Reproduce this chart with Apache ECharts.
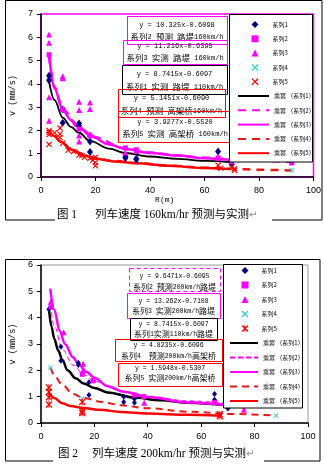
<!DOCTYPE html>
<html><head><meta charset="utf-8">
<script src="https://cdn.jsdelivr.net/npm/echarts@6/dist/echarts.min.js"></script>
<style>html,body{margin:0;padding:0;background:#fff}#c{width:324px;height:465px}</style>
</head><body><div id="c"></div>
<script>
// ---------- DATA: chart 1 (160 km/h) ----------
const c1S1x = [3, 3, 8, 8, 14, 14, 18, 18, 31, 31, 35, 35, 65, 70];
const c1S1y = [4.35, 4.15, 2.9, 2.33, 2.3, 2.2, 1.52, 1.07, 0.88, 0.82, 0.78, 0.75, 1.09, 0.55];
const c1S2x = [3, 8, 14, 18, 31, 35, 65, 70, 92];
const c1S2y = [5.25, 2.9, 2.06, 1.77, 1.25, 1.17, 0.82, 0.77, 0.6];
const c1S3x = [3, 3, 3, 3, 8, 8, 14, 14, 14, 14, 18, 18, 18, 31, 35, 65, 70, 70];
const c1S3y = [6.12, 5.76, 3.42, 2.42, 4.33, 4.24, 3.23, 2.88, 1.78, 1.52, 3.2, 2.92, 1.85, 1.05, 1.12, 0.82, 0.8, 0.68];
const c1S4x = [70, 92];
const c1S4y = [0.38, 0.3];
const c1S5x = [3, 3, 3, 3, 5, 7, 7, 7, 8, 10, 12, 14, 15, 16, 18, 19, 20, 20, 20, 65, 66, 70, 71, 71];
const c1S5y = [2.0, 1.92, 1.82, 1.4, 1.9, 2.1, 1.85, 1.7, 1.45, 1.15, 1.1, 0.95, 0.92, 0.85, 0.8, 0.72, 0.85, 0.62, 0.48, 0.5, 0.38, 0.42, 0.35, 0.28];
const c1T1x = [3, 5, 8, 11, 14, 18, 25, 31, 40, 50, 60, 70];
const c1T1y = [4.1, 3.3, 2.55, 2.15, 1.9, 1.55, 1.22, 1.03, 0.88, 0.78, 0.69, 0.63];
const c1T2x = [3, 5, 8, 14, 20, 30, 40, 50, 60, 70, 80, 92];
const c1T2y = [5.2, 3.85, 2.9, 2.1, 1.7, 1.25, 1.05, 0.92, 0.83, 0.76, 0.7, 0.64];
const c1T3x = [3, 5, 8, 11, 14, 18, 25, 31, 40, 50, 60, 70];
const c1T3y = [5.25, 3.8, 2.88, 2.45, 2.15, 1.78, 1.4, 1.2, 1.03, 0.92, 0.8, 0.73];
const c1T4x = [5, 8, 11, 16, 20, 27, 35, 47, 59, 70, 80, 92];
const c1T4y = [1.8, 1.45, 1.2, 0.95, 0.8, 0.69, 0.6, 0.49, 0.41, 0.35, 0.31, 0.28];
const c1T5x = [3, 5, 7.5, 11, 16, 20, 27, 35, 47, 59, 70];
const c1T5y = [2.0, 1.75, 1.5, 1.18, 0.92, 0.78, 0.67, 0.59, 0.48, 0.39, 0.34];

// ---------- DATA: chart 2 (200 km/h) ----------
const c2S1x = [3, 7.5, 7.5, 14, 14, 18, 18, 31, 31, 35, 35, 65, 65, 70];
const c2S1y = [4.32, 2.9, 2.36, 2.29, 2.2, 1.55, 1.06, 1.0, 0.8, 0.91, 0.77, 1.1, 0.88, 0.55];
const c2S2x = [3.8, 15.5, 19.5, 35, 38.5, 65, 76];
const c2S2y = [4.4, 1.85, 1.6, 1.06, 1.0, 0.78, 0.66];
const c2S3x = [3.7, 8.5, 15.8, 15.8, 19.7, 38.7, 76];
const c2S3y = [4.6, 3.45, 2.25, 2.0, 1.68, 0.77, 0.5];
const c2S4x = [3.5, 15.5, 67, 88];
const c2S4y = [2.1, 0.93, 0.37, 0.28];
const c2S5x = [3, 3, 3, 3, 15.5, 15.5, 15.5, 67, 67];
const c2S5y = [1.35, 1.18, 0.98, 0.7, 0.8, 0.45, 0.38, 0.33, 0.26];
const c2T1x = [3, 4, 5, 6.5, 8, 10, 13, 16, 20, 25, 35, 45, 55, 70];
const c2T1y = [4.33, 3.65, 3.2, 2.75, 2.4, 2.0, 1.7, 1.5, 1.33, 1.16, 0.97, 0.86, 0.77, 0.67];
const c2T2x = [3.5, 5, 8, 12, 16, 20, 30, 40, 55, 76];
const c2T2y = [4.5, 3.7, 2.8, 2.2, 1.85, 1.58, 1.22, 1.02, 0.84, 0.68];
const c2T3x = [3.5, 5, 7, 9, 12, 14, 17, 20, 25, 31, 40, 55, 76];
const c2T3y = [5.1, 4.3, 3.5, 3.0, 2.5, 2.25, 1.95, 1.72, 1.4, 1.19, 0.99, 0.78, 0.6];
const c2T4x = [3.7, 5, 8, 12, 16, 23, 30, 40, 55, 72, 88];
const c2T4y = [2.1, 1.8, 1.45, 1.1, 0.95, 0.8, 0.67, 0.56, 0.43, 0.34, 0.28];
const c2T5x = [3, 5, 8, 11, 16, 22, 30, 40, 55, 67];
const c2T5y = [1.15, 0.95, 0.75, 0.65, 0.57, 0.5, 0.42, 0.36, 0.31, 0.28];

// ---------- TEXT ----------
const legendNames = ['系列1', '系列2', '系列3', '系列4', '系列5',
  '乘幂 （系列1）', '乘幂 （系列2）', '乘幂 （系列3）', '乘幂 （系列4）', '乘幂 （系列5）'];
const c1Eq = ['y = 10.325x-0.6098', 'y = 11.216x-0.6395', 'y = 8.7415x-0.6097', 'y = 5.1451x-0.6090', 'y = 3.9277x-0.5520'];
const c1EqLbl = ['系列2 预测 路堤160km/h', '系列3 实测 路堤 160km/h', '系列1 实测 路堤 110km/h', '系列4 预测 高架桥160km/h', '系列5 实测 高架桥 160km/h'];
const c2Eq = ['y = 9.6471x-0.6095', 'y = 13.262x-0.7108', 'y = 8.7415x-0.6097', 'y = 4.8235x-0.6096', 'y = 1.5948x-0.5307'];
const c2EqLbl = ['系列2 预测200km/h路堤', '系列3 实测200km/h路堤', '系列1实测110km/h路堤', '系列4  预测200km/h高架桥', '系列5 实测200km/h高架桥'];
const caption1 = ['图 1', '列车速度 160km/hr 预测与实测'];
const caption2 = ['图 2', '列车速度 200km/hr 预测与实测'];
const xName = 'R(m)';
const yName = 'v (mm/s)';

// ---------- STYLE ----------
const NAVY = '#000080', MAG = '#ff00ff', CYAN = '#33cccc', RED = '#ff0000', DRED = '#e81818';
const X_SYM = 'path://M0,1.3L1.3,0L5,3.7L8.7,0L10,1.3L6.3,5L10,8.7L8.7,10L5,6.3L1.3,10L0,8.7L3.7,5Z';
const STAR_SYM = 'path://M0,1.3L1.3,0L5,3.7L8.7,0L10,1.3L6.3,5L10,8.7L8.7,10L5,6.3L1.3,10L0,8.7L3.7,5ZM4.4,0L5.6,0L5.6,10L4.4,10Z';
const pts = (xs, ys) => xs.map((x, i) => [x, ys[i]]);

function scat(name, xs, ys, gi, symbol, size, color) {
  return { type: 'scatter', name, xAxisIndex: gi, yAxisIndex: gi, data: pts(xs, ys),
    symbol, symbolSize: size, symbolKeepAspect: true, itemStyle: { color, opacity: 1, borderWidth: 0 }, z: 2, silent: true };
}
function fit(name, xs, ys, gi, color, width, type) {
  return { type: 'line', name, xAxisIndex: gi, yAxisIndex: gi, data: pts(xs, ys),
    symbol: 'none', showSymbol: false, smooth: 0.35, smoothMonotone: 'x',
    lineStyle: { color, width, type }, itemStyle: { color }, z: 2, silent: true };
}
const names = p => legendNames.map(n => p + '|' + n);
const n1 = names('a'), n2 = names('b');

const series = [
  scat(n1[0], c1S1x, c1S1y, 0, 'diamond', [6, 8], NAVY),
  scat(n1[1], c1S2x, c1S2y, 0, 'rect', 5, MAG),
  scat(n1[2], c1S3x, c1S3y, 0, 'triangle', 6, MAG),
  scat(n1[3], c1S4x, c1S4y, 0, X_SYM, 5, CYAN),
  scat(n1[4], c1S5x, c1S5y, 0, X_SYM, 6, RED),
  fit(n1[5], c1T1x, c1T1y, 0, '#000', 1.8, 'solid'),
  fit(n1[6], c1T2x, c1T2y, 0, MAG, 2.5, [8, 6]),
  fit(n1[7], c1T3x, c1T3y, 0, MAG, 2.5, 'solid'),
  fit(n1[8], c1T4x, c1T4y, 0, DRED, 2.5, [8, 6]),
  fit(n1[9], c1T5x, c1T5y, 0, RED, 2.5, 'solid'),

  scat(n2[0], c2S1x, c2S1y, 1, 'diamond', [5, 6], NAVY),
  scat(n2[1], c2S2x, c2S2y, 1, 'rect', 5, MAG),
  scat(n2[2], c2S3x, c2S3y, 1, 'triangle', 6, MAG),
  scat(n2[3], c2S4x, c2S4y, 1, X_SYM, 5, CYAN),
  scat(n2[4], c2S5x, c2S5y, 1, STAR_SYM, 7, RED),
  fit(n2[5], c2T1x, c2T1y, 1, '#000', 2.5, 'solid'),
  fit(n2[6], c2T2x, c2T2y, 1, MAG, 1, [5, 3]),
  fit(n2[7], c2T3x, c2T3y, 1, MAG, 2.5, 'solid'),
  fit(n2[8], c2T4x, c2T4y, 1, DRED, 2, [7, 5]),
  fit(n2[9], c2T5x, c2T5y, 1, RED, 2.5, 'solid')
];

function xAx(gi, shift) {
  return { gridIndex: gi, type: 'value', min: 0, max: 100, interval: 20,
    axisLine: { show: true, onZero: false, lineStyle: { color: '#000', width: 1.5 } },
    axisTick: { show: true, inside: false, length: 4, lineStyle: { color: '#000' } },
    splitLine: { show: false },
    axisLabel: { fontSize: 9, color: '#000', margin: 9, fontFamily: 'Liberation Sans' },
    name: xName, nameLocation: 'middle', nameGap: 15,
    nameTextStyle: { fontSize: 8, color: '#000', fontFamily: 'Liberation Mono', padding: [0, shift, 0, 0] } };
}
function yAx(gi, max) {
  return { gridIndex: gi, type: 'value', min: 0, max, interval: 1,
    axisLine: { show: true, onZero: false, lineStyle: { color: '#000', width: 1.5 } },
    axisTick: { show: true, inside: false, length: 4, lineStyle: { color: '#000' } },
    splitLine: { show: false },
    axisLabel: { fontSize: 9, color: '#000', margin: 8, fontFamily: 'Liberation Sans' },
    name: yName, nameLocation: 'middle', nameGap: 16,
    nameTextStyle: { fontSize: 8.5, color: '#000', fontFamily: 'Liberation Mono' } };
}

// ---------- GRAPHIC: frames, captions, equation boxes, legend boxes ----------
const g = [];
g.push({ type: 'rect', z: 0, silent: true, shape: { x: 5.5, y: 0.5, width: 316.5, height: 219.5 }, style: { fill: 'none', stroke: '#000', lineWidth: 1 } });
g.push({ type: 'rect', z: 0, silent: true, shape: { x: 5.5, y: 259.5, width: 314.5, height: 201.5 }, style: { fill: 'none', stroke: '#000', lineWidth: 1 } });

function caption(cap, x0, y0, w, h, xa, xb, yc) {
  g.push({ type: 'rect', z: 10, silent: true, shape: { x: x0, y: y0, width: w, height: h }, style: { fill: '#fff' } });
  g.push({ type: 'text', z: 11, silent: true, style: { text: cap[0], x: xa, y: yc, verticalAlign: 'middle', textVerticalAlign: 'middle',
    fontSize: 11.5, fontFamily: 'Liberation Serif, Noto Sans CJK SC', fill: '#000' } });
  g.push({ type: 'text', z: 11, silent: true, style: { text: '{a|' + cap[1] + '}{r|↵}', x: xb, y: yc, verticalAlign: 'middle', textVerticalAlign: 'middle',
    rich: { a: { fontSize: 11.5, fontFamily: 'Liberation Serif, Noto Sans CJK SC', fill: '#000' },
            r: { fontSize: 10, fontFamily: 'DejaVu Sans', fill: '#888' } } } });
}
caption(caption1, 55, 207, 217, 19, 57, 95, 215);
caption(caption2, 53, 443, 211, 22, 58, 92, 454);

const mix = s => s.replace(/([\u4e00-\u9fff]+)/g, '{c|$1}');
function eqBox(b, eq, lbl, lfs, cfs) {
  const [x0, y0, x1, y1, col, dash, ya, yb] = b;
  g.push({ type: 'rect', z: 3, silent: true, shape: { x: x0 + 0.5, y: y0 + 0.5, width: x1 - x0, height: y1 - y0 },
    style: { fill: 'none', stroke: col, lineWidth: 1, lineDash: dash ? [4, 3] : null } });
  [[eq, ya], [lbl, yb]].forEach(([t, y]) => {
    g.push({ type: 'text', z: 3, silent: true, style: { text: mix(t), x: (x0 + x1) / 2, y,
      align: 'center', textAlign: 'center', verticalAlign: 'middle', textVerticalAlign: 'middle',
      fontSize: lfs, fontFamily: 'Liberation Mono', fill: '#000',
      rich: { c: { fontSize: cfs, fontFamily: 'Noto Sans CJK SC', fill: '#000' } } } });
  });
}
const c1Boxes = [
  [127, 16, 227, 44, MAG, false, 25, 37],
  [123, 40, 227, 64, MAG, false, 46, 58],
  [122, 65, 227, 94, '#000', false, 74, 87],
  [118, 89, 225, 117, RED, false, 98, 111],
  [118, 111, 232, 142, RED, false, 122, 134]
];
const c2Boxes = [
  [129, 268, 220, 291, MAG, true, 276, 287],
  [127, 293, 220, 318, MAG, false, 301, 311],
  [130, 318, 217, 340, '#000', false, 324, 334],
  [115, 339, 222, 361, RED, false, 345, 356],
  [118, 363, 222, 386, RED, false, 368, 378]
];
c1Boxes.forEach((b, i) => eqBox(b, c1Eq[i], c1EqLbl[i], 7, 8.5));
c2Boxes.forEach((b, i) => eqBox(b, c2Eq[i], c2EqLbl[i], 6.5, 8));

g.push({ type: 'rect', z: 3, silent: true, shape: { x: 229.5, y: 14.5, width: 83, height: 147.5 }, style: { fill: '#fff', stroke: '#000', lineWidth: 1 } });
g.push({ type: 'rect', z: 3, silent: true, shape: { x: 223.5, y: 264.5, width: 79, height: 143.5 }, style: { fill: '#fff', stroke: '#000', lineWidth: 1 } });

function leg(data, left, top, iw, gap, textPad, hideSymbol) {
  const o = { data, orient: 'vertical', left, top, itemWidth: iw, itemHeight: 7, itemGap: gap, padding: 0,
    selectedMode: false, z: 5, symbolKeepAspect: true, formatter: n => n.split('|')[1],
    textStyle: { fontSize: 6, lineHeight: 7, color: '#000', fontFamily: 'Noto Sans CJK SC', padding: [0, 0, 0, textPad] } };
  if (hideSymbol) o.itemStyle = { opacity: 0 };
  return o;
}

const chart = echarts.init(document.getElementById('c'), null, { renderer: 'canvas' });
chart.setOption({
  animation: false,
  backgroundColor: '#fff',
  grid: [
    { left: 36, top: 14, width: 279, height: 163, show: true, borderColor: MAG, borderWidth: 1.5, backgroundColor: 'rgba(0,0,0,0)' },
    { left: 36, top: 265, width: 272, height: 158, show: true, borderColor: '#999', borderWidth: 1, backgroundColor: 'rgba(0,0,0,0)' }
  ],
  xAxis: [xAx(0, 25), xAx(1, 32)],
  yAxis: [yAx(0, 7), yAx(1, 6)],
  legend: [
    leg(n1.slice(0, 5), 251.5, 21, 7, 7.3, 9, false),
    leg(n1.slice(5), 237, 92.5, 31, 7.3, 0, true),
    leg(n2.slice(0, 5), 241.5, 267, 7, 7.5, 8, false),
    leg(n2.slice(5), 229, 339.5, 28, 7.5, 0, true)
  ],
  graphic: { elements: g },
  series
});
</script></body></html>
